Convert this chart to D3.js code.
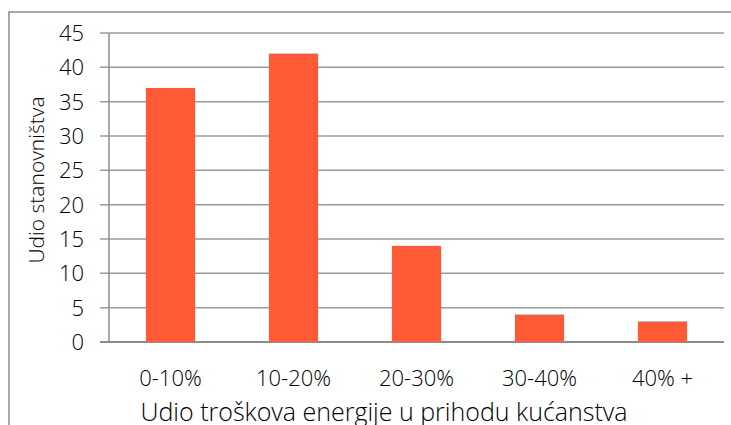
<!DOCTYPE html>
<html lang="hr">
<head>
<meta charset="UTF-8">
<title>Udio troškova energije</title>
<script src="https://cdn.jsdelivr.net/npm/d3@7"></script>
<style>
  body { margin: 0; background: #fff; }
  text { font-family: "Open Sans", sans-serif; font-weight: 300; fill: #000; }
</style>
</head>
<body>
<script>
    var categories = ["0-10%", "10-20%", "20-30%", "30-40%", "40% +"];
    var values = [37, 42, 14, 4, 3];
    var yTicks = [0, 5, 10, 15, 20, 25, 30, 35, 40, 45];

    var width = 731, height = 425;
    var plotLeft = 109, plotRight = 724, plotTop = 33, plotBottom = 342;

    var svg = d3.select('body').append('svg')
        .attr('width', width)
        .attr('height', height);

    // chart border
    svg.append('rect')
        .attr('x', 9).attr('y', 12)
        .attr('width', 760).attr('height', 440)
        .attr('fill', 'none')
        .attr('stroke', '#8c8c8c')
        .attr('stroke-width', 1.5);

    var x = d3.scaleBand().domain(categories).range([plotLeft, plotRight]).paddingInner(0.6).paddingOuter(0.3);
    var y = d3.scaleLinear().domain([0, 45]).range([plotBottom, plotTop]);

    // gridlines + ticks
    svg.append('g').selectAll('line')
        .data(yTicks)
        .enter().append('line')
        .attr('x1', plotLeft - 9).attr('x2', plotRight)
        .attr('y1', function (d) { return y(d); })
        .attr('y2', function (d) { return y(d); })
        .attr('stroke', '#9a9a9a')
        .attr('stroke-width', 1.5);

    // y axis line
    svg.append('line')
        .attr('x1', plotLeft).attr('x2', plotLeft)
        .attr('y1', plotTop).attr('y2', plotBottom)
        .attr('stroke', '#8c8c8c').attr('stroke-width', 1.5);

    svg.append('g').selectAll('text')
        .data(yTicks)
        .enter().append('text')
        .attr('x', 84)
        .attr('y', function (d) { return y(d) + 8; })
        .attr('text-anchor', 'end')
        .style('font-size', '22px')
        .text(function (d) { return d; });

    // bars
    svg.append('g').selectAll('rect')
        .data(values)
        .enter().append('rect')
        .attr('x', function (d, i) { return x(categories[i]); })
        .attr('width', x.bandwidth())
        .attr('y', function (d) { return y(d); })
        .attr('height', function (d) { return y(0) - y(d); })
        .attr('fill', '#ff5a36');

    // x axis line
    svg.append('line')
        .attr('x1', plotLeft - 9).attr('x2', plotRight)
        .attr('y1', plotBottom).attr('y2', plotBottom)
        .attr('stroke', '#8c8c8c').attr('stroke-width', 2);

    svg.append('g').selectAll('text')
        .data(categories)
        .enter().append('text')
        .attr('x', function (d) { return x(d) + x.bandwidth() / 2; })
        .attr('y', 386)
        .attr('text-anchor', 'middle')
        .style('font-size', '22px')
        .text(function (d) { return d; });

    svg.append('text')
        .attr('x', 384).attr('y', 421)
        .attr('text-anchor', 'middle')
        .style('font-size', '25px')
        .text('Udio troškova energije u prihodu kućanstva');

    svg.append('text')
        .attr('transform', 'translate(44,180) rotate(-90)')
        .attr('text-anchor', 'middle')
        .style('font-size', '21px')
        .text('Udio stanovništva');
</script>
</body>
</html>
